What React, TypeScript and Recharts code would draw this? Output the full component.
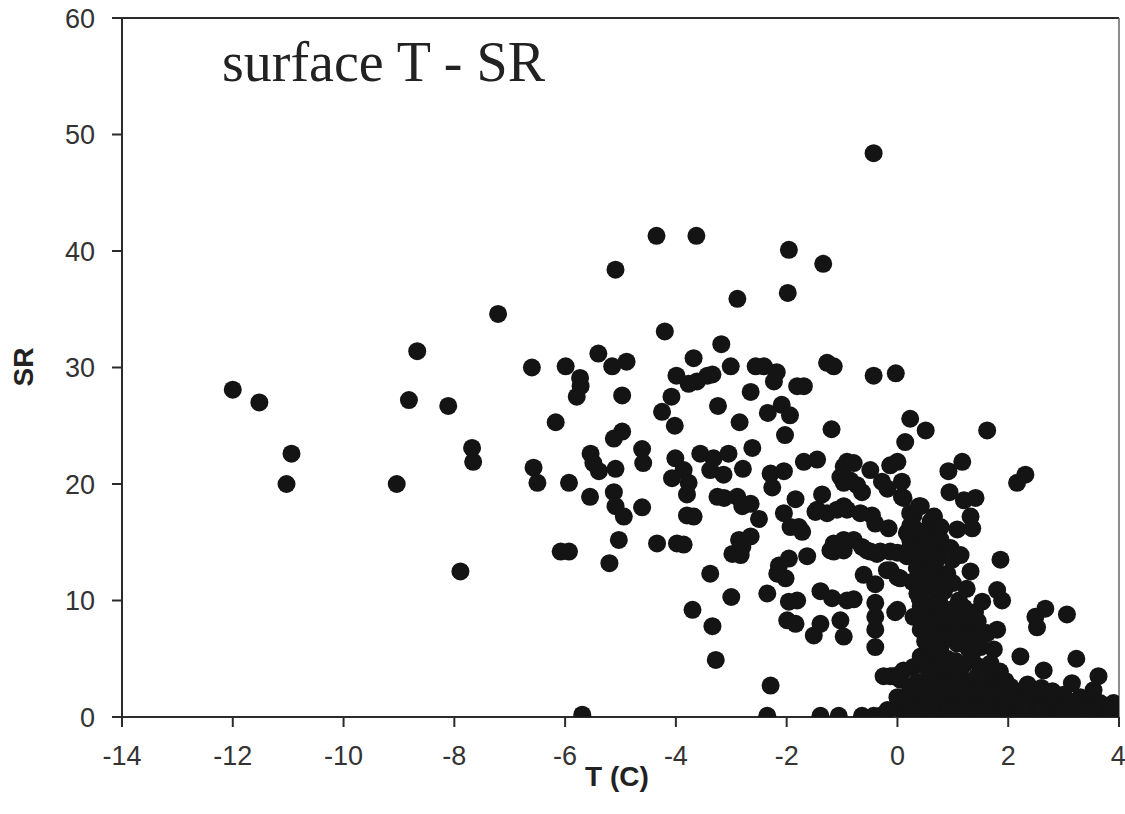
import { ReferenceLine, Scatter, ScatterChart, XAxis, YAxis } from "recharts";

// [T (C), SR] pairs, grouped by region
const coldPoints: [number, number][] = [
  [-12.0, 28.1], [-11.52, 27.0], [-10.94, 22.6], [-11.03, 20.0], [-9.04, 20.0],
  [-8.82, 27.2], [-8.67, 31.4], [-8.11, 26.7], [-7.89, 12.5], [-7.68, 23.1],
  [-7.66, 21.9], [-7.21, 34.6], [-6.6, 30.0], [-6.57, 21.4], [-6.5, 20.1],
];

const midPoints: [number, number][] = [
  [-6.17, 25.3], [-6.08, 14.2], [-5.93, 14.2], [-5.99, 30.1], [-5.93, 20.1], [-5.73, 29.1],
  [-5.72, 28.4], [-5.79, 27.5], [-5.69, 0.2], [-5.55, 18.9], [-5.54, 22.6], [-5.49, 21.8],
  [-5.39, 21.1], [-5.4, 31.2], [-5.2, 13.2], [-5.15, 30.1], [-5.12, 23.9], [-5.12, 19.3],
  [-5.09, 38.4], [-5.09, 21.3], [-5.09, 18.1], [-5.03, 15.2], [-4.97, 27.6], [-4.97, 24.5],
  [-4.94, 17.2], [-4.89, 30.5], [-4.61, 23.0], [-4.59, 21.8], [-4.61, 18.0], [-4.35, 41.3],
  [-4.34, 14.9], [-4.25, 26.2], [-4.2, 33.1], [-4.08, 27.5], [-4.02, 25.0], [-4.01, 22.2],
  [-4.07, 20.5], [-3.99, 29.3], [-3.98, 14.9], [-3.86, 21.2], [-3.86, 14.8], [-3.8, 19.1],
  [-3.8, 17.3], [-3.77, 20.1], [-3.77, 28.6], [-3.7, 9.2], [-3.68, 30.8], [-3.68, 17.2],
  [-3.63, 41.3], [-3.62, 28.8], [-3.56, 22.6], [-3.43, 29.3], [-3.38, 21.2], [-3.38, 12.3],
  [-3.34, 29.4], [-3.34, 7.8], [-3.32, 22.2], [-3.28, 4.9], [-3.25, 18.9], [-3.24, 26.7],
  [-3.18, 32.0], [-3.14, 20.8], [-3.13, 18.8], [-3.05, 22.6], [-3.01, 30.1], [-3.0, 10.3],
  [-2.98, 14.0], [-2.89, 35.9], [-2.89, 18.9], [-2.86, 15.2], [-2.85, 25.3], [-2.83, 13.9],
  [-2.8, 18.1], [-2.8, 14.6], [-2.79, 21.3], [-2.65, 27.9], [-2.65, 18.3], [-2.65, 15.5],
  [-2.62, 23.1], [-2.56, 30.1], [-2.5, 17.0], [-2.41, 30.1], [-2.35, 10.6], [-2.35, 0.1],
  [-2.34, 26.1], [-2.29, 20.9], [-2.29, 2.7], [-2.26, 19.7], [-2.23, 28.8], [-2.18, 29.6],
  [-2.17, 12.3], [-2.14, 13.0], [-2.09, 26.8], [-2.05, 21.1], [-2.05, 17.5], [-2.03, 24.2],
  [-2.02, 11.9], [-1.98, 36.4], [-1.96, 40.1], [-1.96, 13.6], [-1.96, 9.9], [-1.99, 8.3],
  [-1.94, 25.9], [-1.93, 16.3], [-1.84, 18.7], [-1.84, 8.0], [-1.81, 28.4], [-1.81, 10.0],
  [-1.78, 16.3], [-1.72, 15.9], [-1.69, 28.4], [-1.69, 21.9], [-1.63, 13.8], [-1.51, 7.0],
];

const nearZeroPoints: [number, number][] = [
  [-1.48, 17.6], [-1.45, 22.1], [-1.45, 17.8], [-1.39, 10.8], [-1.39, 8.0], [-1.39, 0.1],
  [-1.36, 19.1], [-1.34, 38.9], [-1.27, 30.4], [-1.27, 17.5], [-1.21, 14.3], [-1.19, 24.7],
  [-1.18, 10.2], [-1.15, 30.1], [-1.15, 14.9], [-1.15, 14.2], [-1.09, 17.8], [-1.06, 0.1],
  [-1.03, 20.6], [-1.03, 8.3], [-0.97, 21.5], [-0.97, 20.1], [-0.97, 18.1], [-0.97, 15.2],
  [-0.97, 14.3], [-0.97, 6.9], [-0.91, 21.9], [-0.91, 17.8], [-0.91, 10.0], [-0.85, 20.3],
  [-0.79, 21.8], [-0.79, 15.2], [-0.79, 10.1], [-0.73, 19.9], [-0.67, 17.5], [-0.64, 19.3],
  [-0.64, 14.6], [-0.64, 0.1], [-0.61, 12.2], [-0.55, 14.3], [-0.49, 21.2], [-0.49, 14.2],
  [-0.46, 17.3], [-0.43, 48.4], [-0.43, 29.3], [-0.43, 0.1], [-0.4, 16.6], [-0.4, 11.4],
  [-0.4, 9.8], [-0.4, 8.6], [-0.4, 7.5], [-0.4, 6.0], [-0.37, 14.0], [-0.31, 14.2],
  [-0.31, 0.1], [-0.28, 20.2], [-0.25, 3.5], [-0.19, 12.6], [-0.18, 19.6], [-0.16, 16.2],
  [-0.13, 14.2], [-0.13, 12.6], [-0.13, 3.5], [-0.13, 21.6], [-0.09, 3.5], [-0.18, 0.6],
  [-0.04, 9.0], [-0.03, 29.5], [0.0, 21.9], [0.0, 14.1], [0.0, 12.0], [0.0, 9.2],
  [0.0, 0.8], [0.05, 11.9], [0.05, 3.7], [0.05, 3.2], [0.08, 20.2], [0.08, 18.9],
];

const warmUpperPoints: [number, number][] = [
  [0.11, 18.8], [0.14, 23.6], [0.17, 13.8], [0.17, 15.8], [0.23, 25.6], [0.23, 17.5],
  [0.23, 16.4], [0.23, 15.2], [0.23, 14.6], [0.27, 11.6], [0.29, 17.3], [0.29, 16.3],
  [0.36, 14.3], [0.36, 11.6], [0.39, 18.1], [0.42, 18.1], [0.45, 15.5], [0.51, 24.6],
  [0.54, 16.1], [0.54, 15.2], [0.54, 14.5], [0.54, 11.0], [0.6, 16.8], [0.6, 15.7],
  [0.66, 17.2], [0.72, 16.3], [0.78, 16.3], [0.78, 15.2], [0.78, 14.0], [0.92, 21.1],
  [0.94, 19.3], [0.9, 12.3], [0.96, 14.5], [0.99, 13.5], [1.08, 16.1], [1.14, 13.9],
  [1.17, 21.9], [1.2, 18.6], [1.32, 17.2], [1.32, 12.5], [1.35, 16.2], [1.41, 18.8],
  [1.62, 24.6], [1.86, 13.5], [2.16, 20.1], [2.31, 20.8], [0.35, 12.8], [0.5, 13.2],
  [0.45, 12.2], [0.65, 12.6], [0.7, 13.4], [0.85, 12.0], [0.7, 11.6], [1.0, 11.5],
  [0.4, 13.6], [0.62, 14.0],
];

const warmLowerPoints: [number, number][] = [
  [0.36, 10.6], [0.42, 9.5], [0.6, 10.0], [0.75, 10.0], [0.84, 10.8], [1.11, 10.0],
  [1.53, 9.9], [1.8, 10.9], [1.89, 10.0], [0.29, 8.6], [0.51, 9.5], [0.66, 8.9],
  [0.75, 8.0], [0.42, 7.5], [0.6, 6.9], [0.96, 7.5], [1.2, 7.2], [1.41, 7.5],
  [1.62, 7.2], [1.8, 7.5], [1.08, 6.3], [1.29, 5.8], [1.5, 6.0], [1.74, 5.8],
  [1.68, 4.6], [2.22, 5.2], [2.64, 4.0], [3.23, 5.0], [3.15, 2.9], [3.0, 1.9],
  [3.63, 3.5], [3.54, 2.3], [2.49, 8.6], [2.67, 9.3], [2.52, 7.7], [3.06, 8.8],
  [0.42, 5.2], [0.29, 4.3], [0.11, 4.0], [0.66, 5.5], [0.78, 6.0], [0.81, 4.6],
  [0.96, 3.7], [1.14, 3.5], [1.26, 2.9], [1.44, 3.5], [1.68, 2.9], [1.86, 2.3],
  [2.04, 2.6], [2.22, 2.0], [2.46, 2.0], [2.64, 1.5], [2.88, 1.5], [3.36, 1.5],
  [3.66, 1.2], [3.9, 1.2], [0.23, 2.3], [0.0, 1.7], [0.36, 1.5], [0.66, 2.0],
  [0.84, 1.5], [1.08, 1.7], [1.32, 1.5], [1.56, 1.7], [1.8, 1.5], [0.11, 1.5],
  [0.6, 1.5], [0.78, 2.3], [0.48, 4.6], [0.69, 5.6], [2.1, 2.3], [2.94, 1.2],
  [3.3, 1.7], [0.55, 8.2], [0.85, 8.5], [1.0, 8.0], [1.15, 8.6], [1.3, 8.1],
  [0.95, 9.2], [0.5, 6.5], [0.85, 6.8], [1.0, 7.0], [1.15, 6.6], [1.35, 6.7],
  [1.55, 7.0], [0.7, 6.2], [0.55, 4.1], [0.75, 4.3], [0.9, 5.0], [1.05, 4.8],
  [1.2, 4.5], [1.35, 4.9], [1.5, 4.3], [1.85, 3.9], [1.0, 4.2], [0.65, 3.6],
  [0.35, 3.0], [0.5, 2.8], [0.7, 3.0], [0.85, 2.7], [1.05, 2.9], [1.5, 2.6],
  [1.6, 3.7], [1.95, 3.1], [2.35, 2.8], [2.6, 2.5], [2.8, 2.2], [0.4, 10.2],
  [0.55, 9.9], [0.45, 8.8], [1.25, 11.0], [1.2, 9.4], [1.4, 9.0], [1.45, 8.2],
];

const baselinePoints: [number, number][] = [
  [0.2, 1.0], [0.45, 1.1], [0.5, 2.1], [0.7, 1.1], [0.95, 1.0], [1.0, 2.3], [1.2, 1.0],
  [1.2, 2.2], [1.45, 1.1], [1.45, 2.1], [1.65, 1.0], [1.7, 2.1], [1.9, 1.0], [2.0, 1.8],
  [2.15, 1.1], [2.35, 1.2], [2.55, 0.9], [2.75, 1.0], [3.05, 0.9], [3.2, 1.2], [3.45, 0.8],
  [3.8, 0.7], [3.95, 0.9], [0.15, 0.2], [0.3, 0.0], [0.4, 0.4], [0.55, 0.1], [0.65, 0.3],
  [0.8, 0.0], [0.9, 0.3], [1.0, 0.1], [1.1, 0.4], [1.2, 0.0], [1.3, 0.3], [1.4, 0.1],
  [1.55, 0.2], [1.65, 0.0], [1.75, 0.3], [1.85, 0.1], [1.95, 0.0], [2.05, 0.3], [2.2, 0.1],
  [2.3, 0.0], [2.4, 0.3], [2.55, 0.1], [2.65, 0.0], [2.75, 0.2], [2.9, 0.1], [3.0, 0.0],
  [3.1, 0.3], [3.25, 0.1], [3.35, 0.0], [3.5, 0.2], [3.6, 0.0], [3.7, 0.3], [3.8, 0.1],
  [3.9, 0.0], [4.0, 0.2], [4.0, 0.6], [3.85, 0.5], [3.55, 0.5], [3.25, 0.5], [2.95, 0.5],
  [2.6, 0.5], [2.25, 0.6], [1.9, 0.5], [1.6, 0.6], [1.25, 0.7], [0.95, 0.6], [0.6, 0.7],
  [0.3, 0.6],
];

const xTicks = [-14, -12, -10, -8, -6, -4, -2, 0, 2, 4];
const yTicks = [0, 10, 20, 30, 40, 50, 60];

const points = [
  ...coldPoints,
  ...midPoints,
  ...nearZeroPoints,
  ...warmUpperPoints,
  ...warmLowerPoints,
  ...baselinePoints,
].map(([t, sr]) => ({ t, sr }));

const axisColor = "#2b2b2b";
const tickStyle = { fill: "#333", fontSize: 27, fontFamily: "'Liberation Sans', Arial, sans-serif" };

const Dot = (props: any) => <circle cx={props.cx} cy={props.cy} r={9} fill="#141414" />;

export default function App() {
  return (
    <div style={{ position: "absolute", left: 0, top: 0, width: 1125, height: 814, background: "#fff" }}>
      <ScatterChart width={1125} height={814} margin={{ top: 18, right: 6, bottom: 37, left: 62 }}>
        <XAxis
          type="number"
          dataKey="t"
          domain={[-14, 4]}
          ticks={xTicks}
          allowDataOverflow
          height={60}
          tickSize={10}
          tickMargin={19}
          tick={tickStyle}
          axisLine={{ stroke: axisColor, strokeWidth: 2 }}
          tickLine={{ stroke: axisColor, strokeWidth: 2 }}
        />
        <YAxis
          type="number"
          dataKey="sr"
          domain={[0, 60]}
          ticks={yTicks}
          allowDataOverflow
          width={60}
          tickSize={10}
          tickMargin={17}
          tick={tickStyle}
          axisLine={{ stroke: axisColor, strokeWidth: 2 }}
          tickLine={{ stroke: axisColor, strokeWidth: 2 }}
        />
        <ReferenceLine y={60} stroke={axisColor} strokeWidth={2} />
        <ReferenceLine x={4} stroke="#666" strokeWidth={1.5} />
        <Scatter data={points} shape={Dot} isAnimationActive={false} />
      </ScatterChart>
      <svg
        width={1125}
        height={814}
        style={{ position: "absolute", left: 0, top: 0, pointerEvents: "none" }}
      >
        <text x={222} y={81} fontFamily="'Liberation Serif', 'Times New Roman', serif" fontSize={56} fill="#222">
          surface T - SR
        </text>
        <text
          x={617}
          y={786}
          textAnchor="middle"
          fontFamily="'Liberation Sans', Arial, sans-serif"
          fontWeight="bold"
          fontSize={28}
          fill="#222"
        >
          T (C)
        </text>
        <text
          x={0}
          y={0}
          transform="translate(33 367) rotate(-90)"
          textAnchor="middle"
          fontFamily="'Liberation Sans', Arial, sans-serif"
          fontWeight="bold"
          fontSize={28}
          fill="#222"
        >
          SR
        </text>
      </svg>
    </div>
  );
}
